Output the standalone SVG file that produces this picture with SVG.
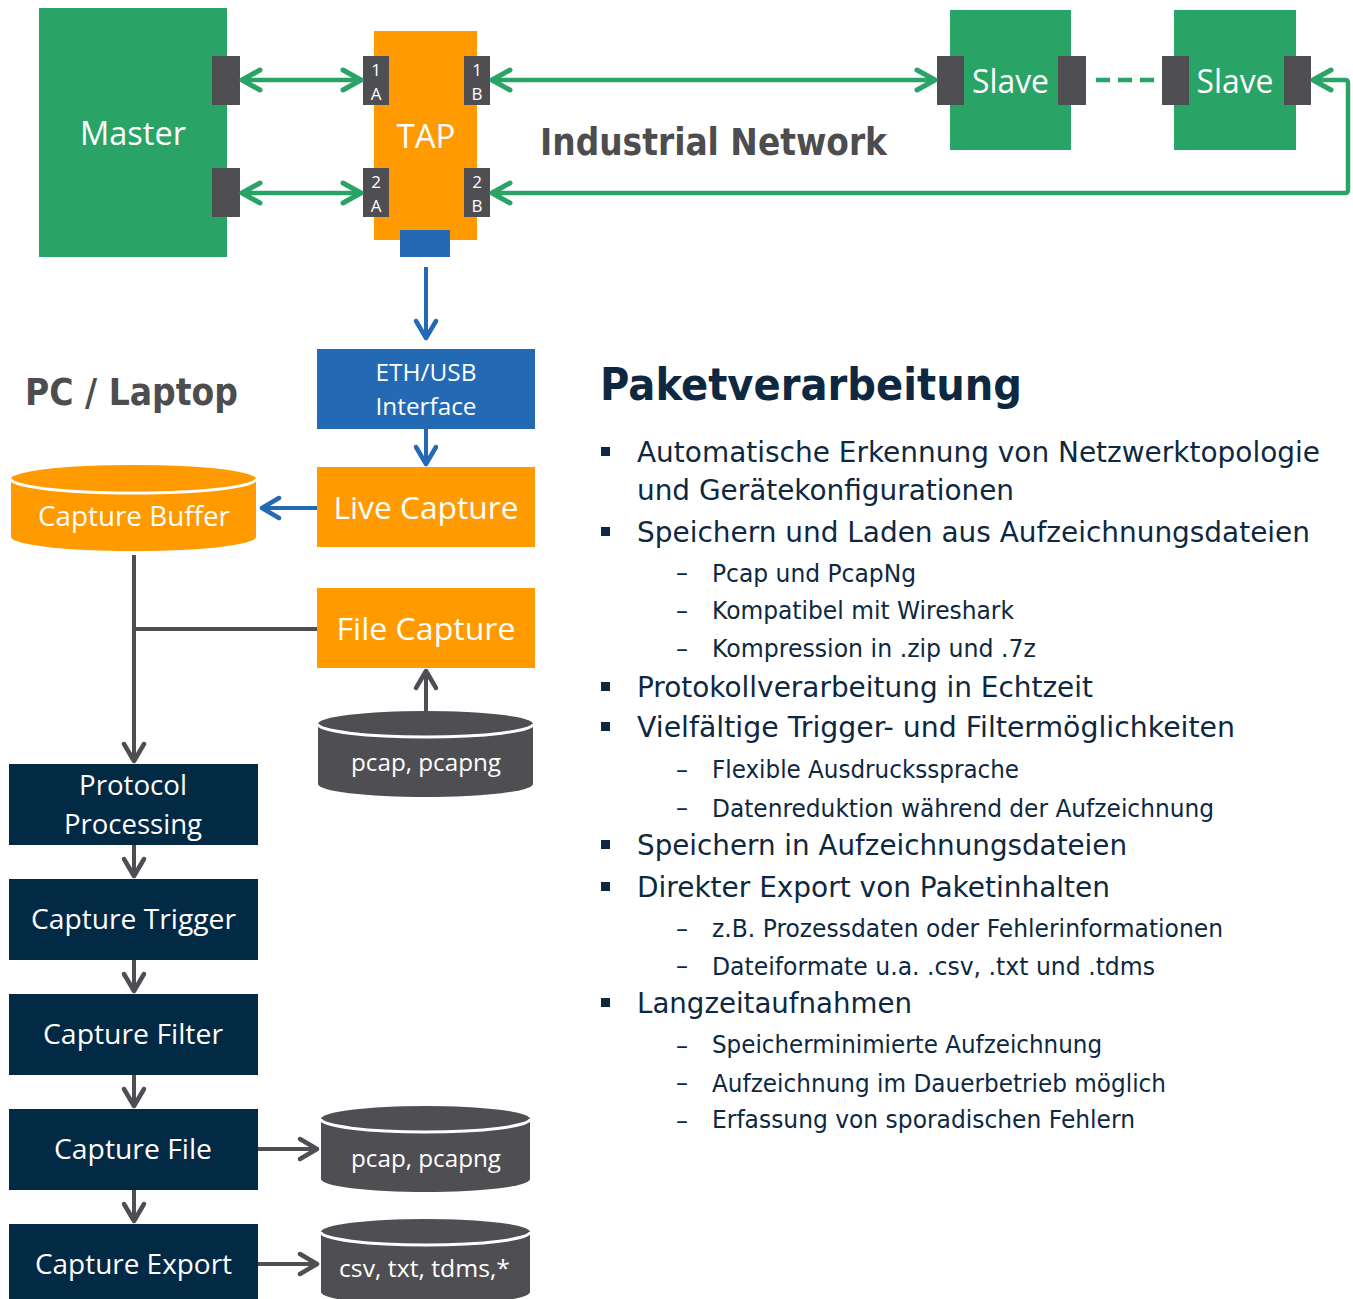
<svg xmlns="http://www.w3.org/2000/svg" width="1353" height="1299" viewBox="0 0 1353 1299">
<style>
.lbl{font-family:"Open Sans","Noto Sans",sans-serif;fill:#fff;text-anchor:middle}
.port{fill:#4F4E52}
.plbl{font-family:"Open Sans",sans-serif;font-size:17px;fill:#fff;text-anchor:middle}
.li{font-family:"DejaVu Sans",sans-serif;fill:#0E2841;font-size:28px}
.si{font-family:"DejaVu Sans",sans-serif;fill:#0E2841;font-size:24px}
.dash{font-family:"DejaVu Sans",sans-serif;fill:#0E2841;font-size:24px}
.g{fill:none;stroke:#2AA366;stroke-width:4.5}
.b{fill:none;stroke:#2369B3;stroke-width:4}
.k{fill:none;stroke:#4F4E52;stroke-width:4}
</style>
<defs>
<marker id="ag" markerUnits="userSpaceOnUse" markerWidth="30" markerHeight="30" viewBox="-25 -15 30 30" refX="0" refY="0" orient="auto-start-reverse"><path d="M-19,-10 L-1,0 L-19,10" fill="none" stroke="#2AA366" stroke-width="5" stroke-linecap="round" stroke-linejoin="round"/></marker>
<marker id="ab" markerUnits="userSpaceOnUse" markerWidth="30" markerHeight="30" viewBox="-25 -15 30 30" refX="0" refY="0" orient="auto-start-reverse"><path d="M-18,-10 L-1,0 L-18,10" fill="none" stroke="#2369B3" stroke-width="4.5" stroke-linecap="round" stroke-linejoin="round"/></marker>
<marker id="ak" markerUnits="userSpaceOnUse" markerWidth="30" markerHeight="30" viewBox="-25 -15 30 30" refX="0" refY="0" orient="auto-start-reverse"><path d="M-18,-10 L-1,0 L-18,10" fill="none" stroke="#4F4E52" stroke-width="4.5" stroke-linecap="round" stroke-linejoin="round"/></marker>
</defs>

<g id="master">
<rect x="39" y="8" width="188" height="249" fill="#2AA366"/>
<text class="lbl" x="133" y="145" font-size="32" textLength="106" lengthAdjust="spacingAndGlyphs">Master</text>
<rect class="port" x="212" y="56" width="28" height="49"/>
<rect class="port" x="212" y="168" width="28" height="49"/>
</g>

<g id="tap">
<rect x="374" y="31" width="103" height="209" fill="#FF9A00"/>
<text class="lbl" x="426" y="148" font-size="32" textLength="59" lengthAdjust="spacingAndGlyphs">TAP</text>
<rect class="port" x="363" y="56" width="26" height="49"/>
<rect class="port" x="464" y="56" width="26" height="49"/>
<rect class="port" x="363" y="168" width="26" height="49"/>
<rect class="port" x="464" y="168" width="26" height="49"/>
<text class="plbl" x="376" y="76">1</text><text class="plbl" x="376" y="100">A</text>
<text class="plbl" x="477" y="76">1</text><text class="plbl" x="477" y="100">B</text>
<text class="plbl" x="376" y="188">2</text><text class="plbl" x="376" y="212">A</text>
<text class="plbl" x="477" y="188">2</text><text class="plbl" x="477" y="212">B</text>
<rect x="400" y="230" width="50" height="27" fill="#2369B3"/>
</g>

<g id="slave1">
<rect x="950" y="10" width="121" height="140" fill="#2AA366"/>
<text class="lbl" x="1010.5" y="93" font-size="32" textLength="77" lengthAdjust="spacingAndGlyphs">Slave</text>
<rect class="port" x="937" y="56" width="27" height="49"/>
<rect class="port" x="1058" y="56" width="28" height="49"/>
</g>

<g id="slave2">
<rect x="1174" y="10" width="122" height="140" fill="#2AA366"/>
<text class="lbl" x="1235" y="93" font-size="32" textLength="77" lengthAdjust="spacingAndGlyphs">Slave</text>
<rect class="port" x="1162" y="56" width="27" height="49"/>
<rect class="port" x="1284" y="56" width="27" height="49"/>
</g>

<g id="industrial-network">
<text x="540" y="155" font-family="DejaVu Sans,sans-serif" font-weight="bold" font-size="37" fill="#4D4D4F" textLength="347" lengthAdjust="spacingAndGlyphs">Industrial Network</text>
</g>

<g id="pc-laptop">
<text x="25" y="405" font-family="DejaVu Sans,sans-serif" font-weight="bold" font-size="37" fill="#4D4D4F" textLength="213" lengthAdjust="spacingAndGlyphs">PC / Laptop</text>
</g>

<g id="eth-usb">
<rect x="317" y="349" width="218" height="80" fill="#2369B3"/>
<text class="lbl" x="426" y="381" font-size="23" textLength="101" lengthAdjust="spacingAndGlyphs">ETH/USB</text>
<text class="lbl" x="426" y="415" font-size="23" textLength="101" lengthAdjust="spacingAndGlyphs">Interface</text>
</g>

<g id="live-capture">
<rect x="317" y="467" width="218" height="80" fill="#FF9A00"/>
<text class="lbl" x="426" y="519" font-size="31" textLength="185" lengthAdjust="spacingAndGlyphs">Live Capture</text>
</g>

<g id="file-capture">
<rect x="317" y="588" width="218" height="80" fill="#FF9A00"/>
<text class="lbl" x="426" y="640" font-size="31" textLength="179" lengthAdjust="spacingAndGlyphs">File Capture</text>
</g>

<g id="capture-buffer">
<path d="M11,479 A122.5,14 0 0 1 256,479 L256,537 A122.5,14 0 0 1 11,537 Z" fill="#FF9A00"/>
<path d="M11,479 A122.5,14 0 0 0 256,479" fill="none" stroke="#fff" stroke-width="3"/>
<text class="lbl" x="134" y="526" font-size="27" textLength="192" lengthAdjust="spacingAndGlyphs">Capture Buffer</text>
</g>

<g id="pcap-in">
<path d="M318,724 A107.5,13 0 0 1 533,724 L533,784 A107.5,13 0 0 1 318,784 Z" fill="#4F4E52"/>
<path d="M318,724 A107.5,13 0 0 0 533,724" fill="none" stroke="#fff" stroke-width="3"/>
<text class="lbl" x="426" y="771" font-size="23" textLength="150" lengthAdjust="spacingAndGlyphs">pcap, pcapng</text>
</g>

<g id="protocol-processing">
<rect x="9" y="764" width="249" height="81" fill="#032A45"/>
<text class="lbl" x="133" y="795" font-size="27" textLength="108" lengthAdjust="spacingAndGlyphs">Protocol</text>
<text class="lbl" x="133" y="834" font-size="27" textLength="138" lengthAdjust="spacingAndGlyphs">Processing</text>
</g>

<g id="capture-trigger">
<rect x="9" y="879" width="249" height="81" fill="#032A45"/>
<text class="lbl" x="133.5" y="929" font-size="27" textLength="205" lengthAdjust="spacingAndGlyphs">Capture Trigger</text>
</g>

<g id="capture-filter">
<rect x="9" y="994" width="249" height="81" fill="#032A45"/>
<text class="lbl" x="133" y="1044" font-size="27" textLength="180" lengthAdjust="spacingAndGlyphs">Capture Filter</text>
</g>

<g id="capture-file">
<rect x="9" y="1109" width="249" height="81" fill="#032A45"/>
<text class="lbl" x="133" y="1159" font-size="27" textLength="158" lengthAdjust="spacingAndGlyphs">Capture File</text>
</g>

<g id="capture-export">
<rect x="9" y="1224" width="249" height="81" fill="#032A45"/>
<text class="lbl" x="133.5" y="1274" font-size="27" textLength="197" lengthAdjust="spacingAndGlyphs">Capture Export</text>
</g>

<g id="pcap-out">
<path d="M321,1119 A104.5,13 0 0 1 530,1119 L530,1179 A104.5,13 0 0 1 321,1179 Z" fill="#4F4E52"/>
<path d="M321,1119 A104.5,13 0 0 0 530,1119" fill="none" stroke="#fff" stroke-width="3"/>
<text class="lbl" x="426" y="1167" font-size="23" textLength="150" lengthAdjust="spacingAndGlyphs">pcap, pcapng</text>
</g>

<g id="export-out">
<path d="M321,1232 A104.5,13 0 0 1 530,1232 L530,1292 A104.5,13 0 0 1 321,1292 Z" fill="#4F4E52"/>
<path d="M321,1232 A104.5,13 0 0 0 530,1232" fill="none" stroke="#fff" stroke-width="3"/>
<text class="lbl" x="424.5" y="1277" font-size="23" textLength="171" lengthAdjust="spacingAndGlyphs">csv, txt, tdms,*</text>
</g>

<g id="connectors">
<line class="g" x1="241" y1="80" x2="362" y2="80" marker-start="url(#ag)" marker-end="url(#ag)"/>
<line class="g" x1="241" y1="193" x2="362" y2="193" marker-start="url(#ag)" marker-end="url(#ag)"/>
<line class="g" x1="491" y1="80" x2="936" y2="80" marker-start="url(#ag)" marker-end="url(#ag)"/>
<line class="g" x1="1096" y1="80" x2="1155" y2="80" stroke-dasharray="14,8"/>
<path class="g" d="M1312,80 L1345,80 Q1348,80 1348,83 L1348,190 Q1348,193 1345,193 L491,193" marker-start="url(#ag)" marker-end="url(#ag)"/>
<line class="b" x1="426" y1="267" x2="426" y2="339" marker-end="url(#ab)"/>
<line class="b" x1="426" y1="429" x2="426" y2="465" marker-end="url(#ab)"/>
<line class="b" x1="317" y1="508" x2="261" y2="508" marker-end="url(#ab)"/>
<line class="k" x1="134" y1="555" x2="134" y2="762" marker-end="url(#ak)"/>
<line class="k" x1="134" y1="629" x2="317" y2="629"/>
<line class="k" x1="426" y1="711" x2="426" y2="670" marker-end="url(#ak)"/>
<line class="k" x1="134" y1="845" x2="134" y2="877" marker-end="url(#ak)"/>
<line class="k" x1="134" y1="960" x2="134" y2="992" marker-end="url(#ak)"/>
<line class="k" x1="134" y1="1075" x2="134" y2="1107" marker-end="url(#ak)"/>
<line class="k" x1="134" y1="1190" x2="134" y2="1222" marker-end="url(#ak)"/>
<line class="k" x1="258" y1="1149" x2="318" y2="1149" marker-end="url(#ak)"/>
<line class="k" x1="258" y1="1264" x2="318" y2="1264" marker-end="url(#ak)"/>
</g>

<g id="paketverarbeitung">
<text x="600" y="400" font-family="DejaVu Sans,sans-serif" font-weight="bold" font-size="44" fill="#0E2841" textLength="422" lengthAdjust="spacingAndGlyphs">Paketverarbeitung</text>
<g fill="#0E2841">
<rect x="601" y="447" width="9" height="9"/>
<rect x="601" y="527" width="9" height="9"/>
<rect x="601" y="682" width="9" height="9"/>
<rect x="601" y="722" width="9" height="9"/>
<rect x="601" y="840" width="9" height="9"/>
<rect x="601" y="882" width="9" height="9"/>
<rect x="601" y="998" width="9" height="9"/>
</g>
<text class="li" x="637" y="462" textLength="683" lengthAdjust="spacingAndGlyphs">Automatische Erkennung von Netzwerktopologie</text>
<text class="li" x="637" y="500" textLength="377" lengthAdjust="spacingAndGlyphs">und Gerätekonfigurationen</text>
<text class="li" x="637" y="542" textLength="673" lengthAdjust="spacingAndGlyphs">Speichern und Laden aus Aufzeichnungsdateien</text>
<text class="dash" x="676" y="581">–</text>
<text class="si" x="712" y="582" textLength="204" lengthAdjust="spacingAndGlyphs">Pcap und PcapNg</text>
<text class="dash" x="676" y="619">–</text>
<text class="si" x="712" y="619" textLength="302" lengthAdjust="spacingAndGlyphs">Kompatibel mit Wireshark</text>
<text class="dash" x="676" y="657">–</text>
<text class="si" x="712" y="657" textLength="324" lengthAdjust="spacingAndGlyphs">Kompression in .zip und .7z</text>
<text class="li" x="637" y="697" textLength="456" lengthAdjust="spacingAndGlyphs">Protokollverarbeitung in Echtzeit</text>
<text class="li" x="637" y="737" textLength="598" lengthAdjust="spacingAndGlyphs">Vielfältige Trigger- und Filtermöglichkeiten</text>
<text class="dash" x="676" y="778">–</text>
<text class="si" x="712" y="778" textLength="307" lengthAdjust="spacingAndGlyphs">Flexible Ausdruckssprache</text>
<text class="dash" x="676" y="816">–</text>
<text class="si" x="712" y="817" textLength="502" lengthAdjust="spacingAndGlyphs">Datenreduktion während der Aufzeichnung</text>
<text class="li" x="637" y="855" textLength="490" lengthAdjust="spacingAndGlyphs">Speichern in Aufzeichnungsdateien</text>
<text class="li" x="637" y="897" textLength="473" lengthAdjust="spacingAndGlyphs">Direkter Export von Paketinhalten</text>
<text class="dash" x="676" y="937">–</text>
<text class="si" x="712" y="937" textLength="511" lengthAdjust="spacingAndGlyphs">z.B. Prozessdaten oder Fehlerinformationen</text>
<text class="dash" x="676" y="974">–</text>
<text class="si" x="712" y="975" textLength="443" lengthAdjust="spacingAndGlyphs">Dateiformate u.a. .csv, .txt und .tdms</text>
<text class="li" x="637" y="1013" textLength="275" lengthAdjust="spacingAndGlyphs">Langzeitaufnahmen</text>
<text class="dash" x="676" y="1054">–</text>
<text class="si" x="712" y="1053" textLength="390" lengthAdjust="spacingAndGlyphs">Speicherminimierte Aufzeichnung</text>
<text class="dash" x="676" y="1091">–</text>
<text class="si" x="712" y="1092" textLength="454" lengthAdjust="spacingAndGlyphs">Aufzeichnung im Dauerbetrieb möglich</text>
<text class="dash" x="676" y="1129">–</text>
<text class="si" x="712" y="1128" textLength="423" lengthAdjust="spacingAndGlyphs">Erfassung von sporadischen Fehlern</text>
</g>
</svg>
